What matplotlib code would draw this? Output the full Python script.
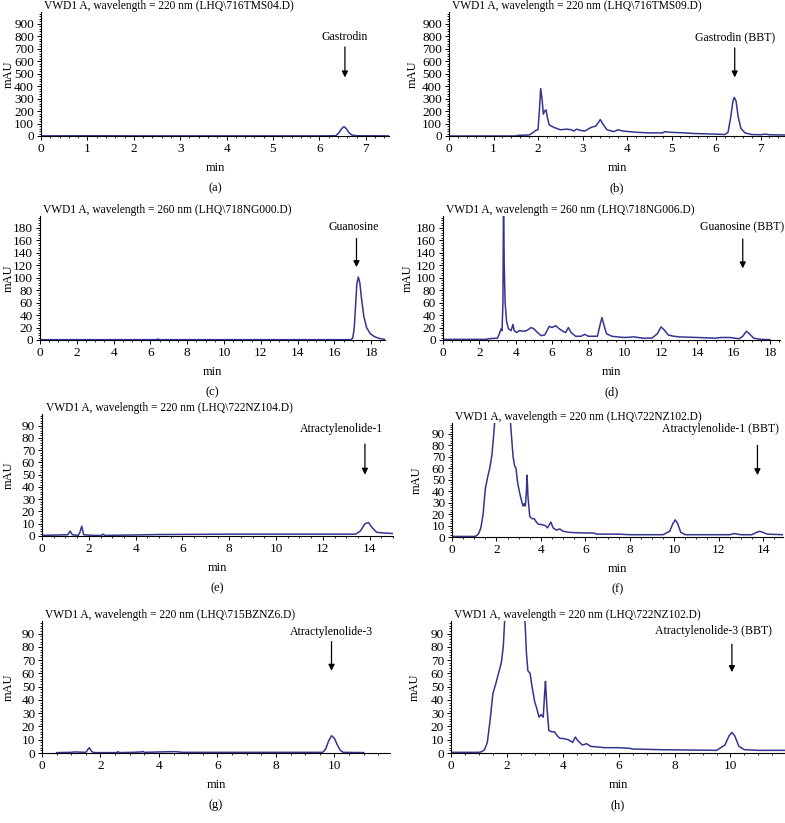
import matplotlib
matplotlib.use("Agg")
import matplotlib.pyplot as plt
from matplotlib.ticker import MultipleLocator, AutoMinorLocator

plt.rcParams['font.family'] = ['Liberation Serif', 'DejaVu Serif']

# (a) gastrodin standard
a_t = [0, 1.2, 2, 3, 4, 5, 6, 6.35, 6.42, 6.48, 6.53, 6.58, 6.64, 6.7, 6.8, 7.5]
a_y = [1, 2, 1, 1, 1, 1, 1, 2, 25, 60, 74, 60, 25, 8, 2, 1]

# (b) gastrodin in BBT
b_t = [0, 1.5, 1.55, 1.8, 1.9, 1.95, 2.0, 2.03, 2.06, 2.09, 2.12, 2.15, 2.18, 2.21, 2.25,
       2.35, 2.5, 2.65, 2.75, 2.8, 2.87, 2.95, 3.05, 3.2, 3.3, 3.36, 3.4, 3.45, 3.55, 3.7,
       3.8, 3.9, 4.2, 4.5, 4.8, 4.85, 4.95, 5.3, 5.5, 6.0, 6.2, 6.27, 6.33, 6.38, 6.41,
       6.45, 6.5, 6.56, 6.65, 6.8, 7.0, 7.1, 7.2, 7.55]
b_y = [0, 0, 5, 8, 30, 45, 50, 200, 380, 300, 175, 200, 210, 150, 90,
       70, 50, 55, 50, 40, 55, 45, 40, 70, 80, 110, 132, 100, 50, 35,
       50, 40, 30, 25, 25, 35, 30, 25, 20, 15, 12, 30, 150, 280, 310,
       280, 150, 60, 25, 12, 10, 15, 10, 8]

# (c) guanosine standard
c_t = [0, 5, 6.3, 6.4, 6.5, 16.9, 17.0, 17.08, 17.15, 17.22, 17.3, 17.38, 17.48, 17.6,
       17.75, 17.95, 18.2, 18.5, 18.75]
c_y = [0.5, 0.5, 0.5, 1.5, 0.5, 0.5, 3, 20, 55, 90, 101, 92, 65, 38,
       20, 10, 5, 2, 1]

# (d) guanosine in BBT
d_t = [0, 2.4, 2.5, 3.0, 3.1, 3.2, 3.25, 3.3, 3.33, 3.37, 3.42, 3.5, 3.6, 3.75, 3.85,
       3.92, 4.05, 4.2, 4.4, 4.6, 4.85, 5.0, 5.2, 5.4, 5.6, 5.85, 6.0, 6.2, 6.4, 6.6,
       6.75, 6.9, 7.05, 7.3, 7.6, 7.8, 8.0, 8.5, 8.65, 8.75, 8.85, 9.0, 9.3, 9.6, 10.0,
       10.5, 11.0, 11.5, 11.8, 12.0, 12.15, 12.4, 12.7, 13.0, 14.0, 15.0, 15.3, 15.8,
       16.3, 16.5, 16.7, 16.9, 17.1, 17.5, 18.0]
d_y = [1, 1, 2, 3, 10, 18, 15, 60, 230, 120, 60, 30, 18, 15, 25,
       15, 12, 15, 14, 15, 20, 18, 12, 7, 8, 22, 20, 23, 18, 14,
       12, 20, 12, 6, 6, 9, 6, 6, 25, 36, 25, 10, 6, 5, 4,
       5, 3, 3, 10, 21, 17, 8, 6, 5, 4, 3, 4, 4,
       2, 6, 14, 9, 3, 1, 0.5]

# (e) atractylenolide-1 standard
e_t = [0, 1.1, 1.2, 1.3, 1.55, 1.62, 1.7, 1.78, 2.2, 2.55, 2.6, 2.7, 4.4, 5, 8, 13.4,
       13.6, 13.8, 13.95, 14.1, 14.3, 14.6, 15]
e_y = [0.5, 1, 4, 1, 0.5, 3, 8, 1, 0.5, 0.5, 1.5, 0.5, 1, 1.2, 1.5, 1.5,
       4, 10, 11, 7, 3, 2.5, 2]

# (f) atractylenolide-1 in BBT
f_t = [0, 1.0, 1.1, 1.2, 1.3, 1.4, 1.5, 1.6, 1.7, 1.8, 1.88, 1.92, 2.0, 2.3, 2.55, 2.65,
       2.75, 2.82, 2.88, 2.95, 3.05, 3.15, 3.2, 3.25, 3.3, 3.35, 3.38, 3.42, 3.5, 3.6,
       3.7, 3.8, 3.9, 4.0, 4.2, 4.3, 4.45, 4.55, 4.7, 4.85, 5.0, 5.3, 6.0, 6.4, 6.5, 7.5,
       8, 9.5, 9.8, 9.95, 10.05, 10.15, 10.3, 10.5, 12.5, 12.7, 13.0, 13.5, 13.7, 13.85,
       14.0, 14.2, 14.9]
f_y = [0.5, 0.5, 1, 3, 8, 20, 42, 52, 60, 72, 90, 100, 140, 200, 130, 95,
       70, 62, 60, 48, 38, 30, 27, 29, 27, 40, 54, 35, 18, 16,
       16, 13, 11, 11, 10, 8, 13, 8, 6, 7, 5, 4, 3.5, 3.5, 2.5, 2.5,
       2, 2, 5, 12, 15, 12, 4, 2, 2, 3, 2, 2, 4, 5,
       4, 2.5, 2]

# (g) atractylenolide-3 standard
g_t = [0.5, 1.0, 1.1, 1.5, 1.58, 1.62, 1.7, 1.8, 2.55, 2.6, 2.65, 3.1, 3.4, 3.45, 3.5,
       4.4, 4.6, 4.8, 9.6, 9.7, 9.8, 9.9, 10.0, 10.1, 10.2, 10.3, 11.0]
g_y = [0.3, 0.5, 0.8, 0.5, 3, 4, 1, 0.3, 0.3, 1, 0.3, 0.5, 0.8, 1.2, 0.5,
       1, 1, 0.5, 0.5, 3, 9, 13, 11, 6, 2, 0.5, 0.3]

# (h) atractylenolide-3 in BBT
h_t = [0, 1.0, 1.1, 1.2, 1.3, 1.4, 1.5, 1.6, 1.7, 1.8, 1.87, 1.92, 2.2, 2.6, 2.65, 2.7,
       2.75, 2.83, 2.9, 3.0, 3.05, 3.15, 3.22, 3.3, 3.35, 3.38, 3.43, 3.5, 3.6, 3.7,
       3.8, 3.9, 4.0, 4.2, 4.35, 4.45, 4.55, 4.7, 4.85, 5.0, 5.5, 6.0, 6.4, 6.5, 7.5,
       9.5, 9.8, 9.95, 10.05, 10.15, 10.3, 10.5, 11, 12]
h_y = [0.5, 0.5, 1, 2.5, 8, 25, 45, 52, 60, 68, 80, 100, 200, 120, 98, 75,
       62, 60, 50, 38, 35, 27, 29, 27, 45, 54, 35, 17, 16, 16,
       13, 11, 11, 10, 8, 12, 9, 6, 7, 5, 4, 4, 3.5, 3, 2.5,
       2, 6, 13, 15.5, 13, 5, 2.5, 2, 2]

traces = [(a_t, a_y), (b_t, b_y), (c_t, c_y), (d_t, d_y),
          (e_t, e_y), (f_t, f_y), (g_t, g_y), (h_t, h_y)]

titles = ["VWD1 A, wavelength = 220 nm (LHQ\\716TMS04.D)",
          "VWD1 A, wavelength = 220 nm (LHQ\\716TMS09.D)",
          "VWD1 A, wavelength = 260 nm (LHQ\\718NG000.D)",
          "VWD1 A, wavelength = 260 nm (LHQ\\718NG006.D)",
          "VWD1 A, wavelength = 220 nm (LHQ\\722NZ104.D)",
          "VWD1 A, wavelength = 220 nm (LHQ\\722NZ102.D)",
          "VWD1 A, wavelength = 220 nm (LHQ\\715BZNZ6.D)",
          "VWD1 A, wavelength = 220 nm (LHQ\\722NZ102.D)"]
compounds = ["Gastrodin", "Gastrodin (BBT)", "Guanosine", "Guanosine (BBT)",
             "Atractylenolide-1", "Atractylenolide-1 (BBT)",
             "Atractylenolide-3", "Atractylenolide-3 (BBT)"]
panel_tags = ["(a)", "(b)", "(c)", "(d)", "(e)", "(f)", "(g)", "(h)"]

W, H = 785, 823
# axes boxes in pixels: left, top, right, bottom
boxes = [(41, 12, 389, 136), (449, 12, 785, 136),
         (40, 216, 385, 340), (443, 216, 780, 340),
         (42, 414, 393, 536), (452, 423, 783, 537),
         (42, 621, 390, 753), (451, 621, 785, 753)]
ylabel_px = [9, 413, 9, 408, 9, 417, 9, 415]
xlims = [7.5, 7.55, 18.75, 18.55, 15, 14.9, 11.9, 11.95]
ylims = [995, 995, 199, 199, 99.5, 99.5, 99.5, 99.5]
xmajor = [1, 1, 2, 2, 2, 2, 2, 2]
ymajor = [100, 100, 20, 20, 10, 10, 10, 10]
# arrow x, arrow tail y, arrow tip y, label x, label y
arrows = [(6.55, 715, 470, 6.55, 796), (6.42, 707, 470, 6.42, 796),
          (17.2, 163, 117, 17.05, 181), (16.5, 162, 115, 16.45, 181),
          (13.8, 75, 50, 12.8, 87), (13.75, 80, 54, 12.1, 94),
          (9.9, 84, 62, 9.9, 91), (10.05, 82, 61, 9.38, 92)]

line_color = '#35358f'
fig = plt.figure(figsize=(W / 100, H / 100), dpi=100)
fig.set_facecolor('white')

for i in range(8):
    l, t, r, b = boxes[i]
    ax = fig.add_axes([l / W, 1 - b / H, (r - l) / W, (b - t) / H])
    x, y = traces[i]
    ax.plot(x, y, color=line_color, lw=1.1)
    ax.set_xlim(0, xlims[i])
    ax.set_ylim(0, ylims[i])
    ax.xaxis.set_major_locator(MultipleLocator(xmajor[i]))
    ax.yaxis.set_major_locator(MultipleLocator(ymajor[i]))
    ax.xaxis.set_minor_locator(AutoMinorLocator(5 if xmajor[i] == 1 else 4))
    ax.yaxis.set_minor_locator(AutoMinorLocator(5))
    ax.spines['top'].set_visible(False)
    ax.spines['right'].set_visible(False)
    ax.spines['left'].set_linewidth(0.8)
    ax.spines['bottom'].set_linewidth(0.8)
    ax.tick_params(which='major', direction='out', length=3, width=0.7, labelsize=9.5, pad=2)
    ax.tick_params(which='minor', direction='out', length=1.5, width=0.6)
    ax.set_ylabel('mAU', fontsize=9, va='center')
    ax.yaxis.set_label_coords((ylabel_px[i] - l) / (r - l), 0.5)
    ax.set_xlabel('min', fontsize=9, labelpad=5)
    ax.text(0.01, 1.0, titles[i], transform=ax.transAxes, ha='left', va='bottom', fontsize=8.3)
    axx, tail, tip, lx, ly = arrows[i]
    ax.annotate('', xy=(axx, tip), xytext=(axx, tail),
                arrowprops=dict(arrowstyle='-|>', color='black', lw=0.9, mutation_scale=9,
                                shrinkA=0, shrinkB=0))
    ax.text(lx, ly, compounds[i], ha='center', va='center', fontsize=8.5)
    cx = (l + r) / 2 / W
    fig.text(cx, 1 - (b + 52) / H, panel_tags[i], ha='center', va='center', fontsize=9)

fig.savefig('out.png', dpi=100)
